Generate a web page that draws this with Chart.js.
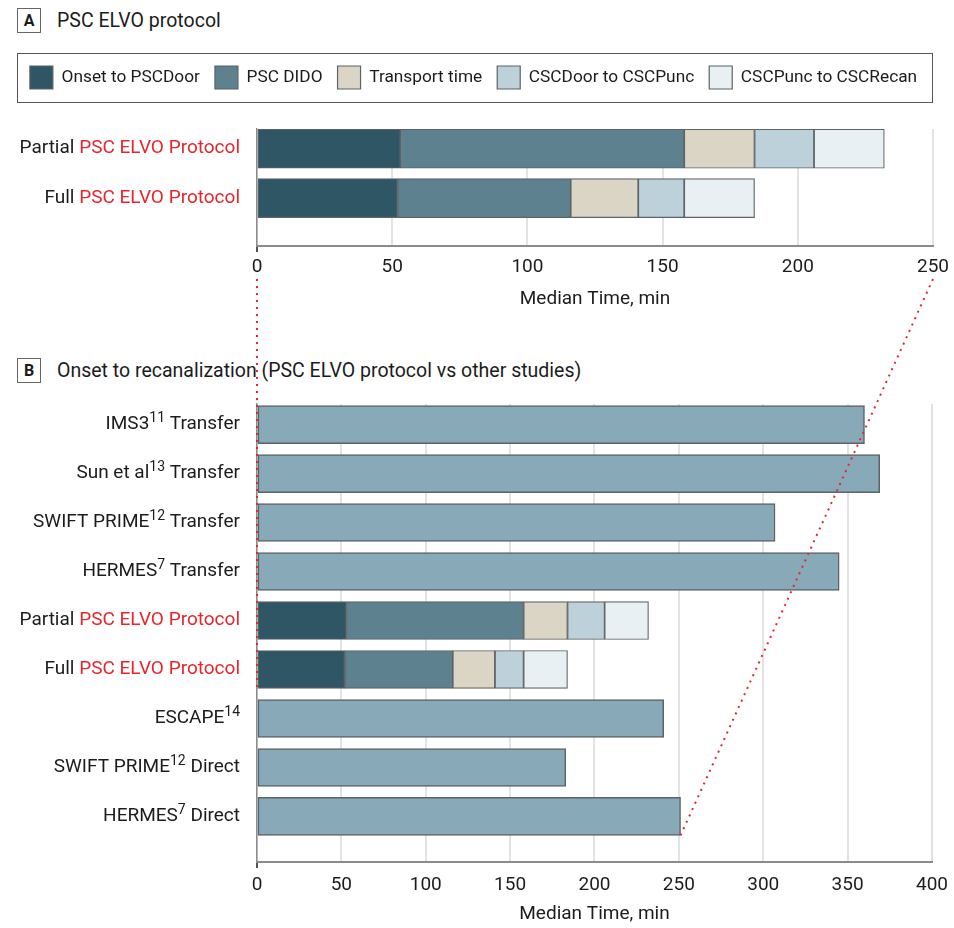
<!DOCTYPE html>
<html>
<head>
<meta charset="utf-8">
<title>PSC ELVO protocol</title>
<script src="https://cdn.jsdelivr.net/npm/chart.js@4.4.1/dist/chart.umd.min.js"></script>
<style>
  body { margin: 0; background: #fff; }
  #page { position: relative; width: 954px; height: 928px; font-family: Roboto, sans-serif; color: #1c1c1c; overflow: hidden; }
  .tag { position: absolute; left: 17px; width: 24px; height: 25px; box-sizing: border-box; border: 1px solid #666; font-weight: 700; font-size: 16px; line-height: 23px; text-align: center; }
  .heading { position: absolute; left: 57px; font-size: 19.5px; line-height: 25px; }
  canvas { position: absolute; }
  #links { position: absolute; left: 0; top: 0; pointer-events: none; }
</style>
</head>
<body>
<div id="page">
  <div class="tag" style="top:8px">A</div>
  <div class="heading" style="top:8px">PSC ELVO protocol</div>
  <div class="tag" style="top:358px">B</div>
  <div class="heading" style="top:358px">Onset to recanalization (PSC ELVO protocol vs other studies)</div>
  <canvas id="chartA" width="954" height="270" style="left:14px;top:51px"></canvas>
  <canvas id="chartB" width="954" height="533" style="left:0;top:395px"></canvas>
  <svg id="links" width="954" height="928"></svg>
</div>
<script>
// segments of the onset-to-recanalization time, in minutes (medians)
const segmentNames = ["Onset to PSCDoor", "PSC DIDO", "Transport time", "CSCDoor to CSCPunc", "CSCPunc to CSCRecan"];
const partialMinutes = [53, 105, 26, 22, 26];
const fullMinutes = [52, 64, 25, 17, 26];
const protocolRows = ["Partial", "Full"];
const protocolArm = "PSC ELVO Protocol";

// panel B rows, top to bottom
const studyRows = ["IMS3", "Sun et al", "SWIFT PRIME", "HERMES", "Partial", "Full", "ESCAPE", "SWIFT PRIME", "HERMES"];
const studyRefs = ["11", "13", "12", "7", "", "", "14", "12", "7"];
const studyArms = ["Transfer", "Transfer", "Transfer", "Transfer", protocolArm, protocolArm, "", "Direct", "Direct"];
const studyMinutes = [360, 369, 307, 345, null, null, 241, 183, 251];

const ticksA = [0, 50, 100, 150, 200, 250];
const ticksB = [0, 50, 100, 150, 200, 250, 300, 350, 400];

const ink = "#1c1c1c";
const red = "#e8262d";
const segmentColors = ["#2f5664", "#5e818f", "#dbd5c6", "#bdd1db", "#e9f0f3"];
const studyColor = "#87a9b8";
const edge = "#5d6366";
const gridColor = "#e3e3e3";
const axisColor = "#8c8c8c";

Chart.defaults.font.family = "Roboto, sans-serif";
Chart.defaults.color = ink;

function segmentSets(rows) {
  return segmentNames.map((name, k) => ({
    label: name,
    data: rows.map(r => ({ x: r.values[k], y: r.y })),
    backgroundColor: segmentColors[k],
    borderColor: edge,
    borderWidth: 1.2,
    borderSkipped: false,
    xAxisID: "x",
    yAxisID: "y"
  }));
}

function axisX(ticks, height, tickPad, titlePad) {
  return {
    type: "linear",
    position: "bottom",
    stacked: true,
    min: 0,
    max: ticks[ticks.length - 1],
    afterBuildTicks: s => { s.ticks = ticks.map(v => ({ value: v })); },
    ticks: { font: { size: 19 }, color: ink, padding: tickPad },
    grid: {
      color: gridColor,
      lineWidth: 2,
      tickLength: 6,
      tickColor: c => (c.tick && c.tick.value === 0 ? "#555" : "rgba(0,0,0,0)")
    },
    border: { color: axisColor, width: 2 },
    title: { display: true, text: "Median Time, min", font: { size: 19 }, color: ink, padding: { top: 0, bottom: titlePad } },
    afterFit: s => { s.height = height; }
  };
}

function axisY(min, max, width) {
  return {
    type: "linear",
    stacked: true,
    reverse: true,
    offset: false,
    min: min,
    max: max,
    ticks: { display: false },
    grid: { display: false, offset: false },
    border: { color: axisColor, width: 1.5 },
    afterFit: s => { s.width = width; }
  };
}

// row labels with superscript references and red protocol names
const rowLabels = {
  id: "rowLabels",
  afterDraw(chart, args, opts) {
    const ctx = chart.ctx;
    const y = chart.scales.y;
    const right = chart.chartArea.left - 17;
    ctx.save();
    ctx.textBaseline = "middle";
    ctx.textAlign = "left";
    opts.names.forEach((name, i) => {
      const ref = opts.refs[i] || "";
      const arm = opts.arms[i] || "";
      const parts = [{ t: name, f: "19px Roboto", c: ink, dy: 0 }];
      if (ref) parts.push({ t: ref, f: "14px Roboto", c: ink, dy: -6 });
      if (arm) parts.push({ t: " " + arm, f: "19px Roboto", c: arm === protocolArm ? red : ink, dy: 0 });
      let w = 0;
      parts.forEach(p => { ctx.font = p.f; p.w = ctx.measureText(p.t).width; w += p.w; });
      let x = right - w;
      const py = y.getPixelForValue(i);
      parts.forEach(p => {
        ctx.font = p.f;
        ctx.fillStyle = p.c;
        ctx.fillText(p.t, x, py + p.dy);
        x += p.w;
      });
    });
    ctx.restore();
  }
};

// thin frame around the legend row, from x=17 to x=933 on the page
const legendFrame = {
  id: "legendFrame",
  afterDraw(chart) {
    const lg = chart.legend;
    const ctx = chart.ctx;
    const left = 17.5 - chart.canvas.offsetLeft;
    ctx.save();
    ctx.strokeStyle = "#555";
    ctx.lineWidth = 1;
    ctx.strokeRect(left, lg.top + 2.5, 915, 49);
    ctx.restore();
  }
};

const protocolMinutes = [partialMinutes, fullMinutes];

const chartA = new Chart(document.getElementById("chartA"), {
  type: "bar",
  data: {
    datasets: segmentSets(protocolRows.map((r, i) => ({ y: i, values: protocolMinutes[i] })))
  },
  options: {
    indexAxis: "y",
    responsive: false,
    animation: false,
    events: [],
    layout: { padding: { left: 0, right: 35 } },
    datasets: { bar: { barThickness: 39 } },
    plugins: {
      legend: {
        position: "top",
        labels: { boxWidth: 23, boxHeight: 23, padding: 15, font: { size: 17.3 }, color: ink }
      },
      tooltip: { enabled: false },
      rowLabels: { names: protocolRows, refs: [], arms: [protocolArm, protocolArm] }
    },
    scales: {
      x: axisX(ticksA, 75, 4, 10),
      xTop: {
        type: "linear", axis: "x", position: "top", min: 0, max: 1,
        ticks: { display: false }, grid: { display: false }, border: { display: false },
        afterFit: s => { s.height = 30; }
      },
      y: axisY(-0.4, 1.97, 243)
    }
  },
  plugins: [rowLabels, legendFrame]
});

const protocolIndexB = studyArms.map((a, i) => (a === protocolArm ? i : -1)).filter(i => i >= 0);
const datasetsB = segmentSets(protocolIndexB.map((yi, k) => ({ y: yi, values: protocolMinutes[k] })));
datasetsB.push({
  label: "Other studies",
  data: studyMinutes.map((v, i) => ({ x: v, y: i })).filter(p => p.x !== null),
  backgroundColor: studyColor,
  borderColor: edge,
  borderWidth: 1.5,
  borderSkipped: false,
  xAxisID: "x",
  yAxisID: "y"
});

const chartB = new Chart(document.getElementById("chartB"), {
  type: "bar",
  data: { datasets: datasetsB },
  options: {
    indexAxis: "y",
    responsive: false,
    animation: false,
    events: [],
    layout: { padding: { top: 9, left: 17, right: 21 } },
    datasets: { bar: { barThickness: 38 } },
    plugins: {
      legend: { display: false },
      tooltip: { enabled: false },
      rowLabels: { names: studyRows, refs: studyRefs, arms: studyArms }
    },
    scales: {
      x: axisX(ticksB, 66, 6, 2),
      y: axisY(-0.42, 8.93, 240)
    }
  },
  plugins: [rowLabels]
});

// red dotted guide lines from panel A's axis to panel B
function drawLinks() {
  const svg = document.getElementById("links");
  const a = chartA.canvas, b = chartB.canvas;
  const startY = a.offsetTop + chartA.chartArea.bottom + 33;
  const fullRow = studyArms.lastIndexOf(protocolArm);
  const lastRow = studyRows.length - 1;
  const half = 19;
  const lines = [
    [a.offsetLeft + chartA.scales.x.getPixelForValue(0), startY,
     b.offsetLeft + chartB.scales.x.getPixelForValue(0), b.offsetTop + chartB.scales.y.getPixelForValue(fullRow) + half],
    [a.offsetLeft + chartA.scales.x.getPixelForValue(ticksA[ticksA.length - 1]), startY,
     b.offsetLeft + chartB.scales.x.getPixelForValue(studyMinutes[lastRow]), b.offsetTop + chartB.scales.y.getPixelForValue(lastRow) + half]
  ];
  svg.innerHTML = lines.map(l =>
    '<line x1="' + l[0] + '" y1="' + l[1] + '" x2="' + l[2] + '" y2="' + l[3] +
    '" stroke="' + red + '" stroke-width="2" stroke-dasharray="2 5" />'
  ).join("");
}
drawLinks();
</script>
</body>
</html>
